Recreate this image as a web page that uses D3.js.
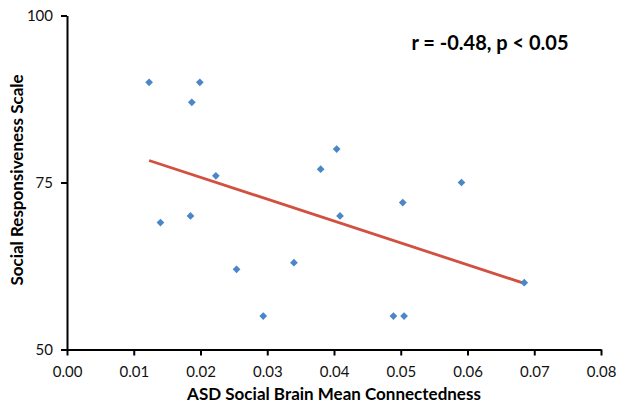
<!DOCTYPE html>
<html>
<head>
<meta charset="utf-8">
<script src="https://cdn.jsdelivr.net/npm/d3@7"></script>
<style>
  html, body { margin: 0; padding: 0; background: #fff; }
  svg { display: block; }
</style>
</head>
<body>
<svg id="chart"></svg>
<script>
// DATA
const connectedness = [0.0123, 0.0199, 0.0187, 0.0223, 0.0140, 0.0185, 0.0254, 0.0294,
  0.0340, 0.0380, 0.0404, 0.0409, 0.0503, 0.0591, 0.0489, 0.0505, 0.0685]
const srsScores = [90, 90, 87, 76, 69, 70, 62, 55, 63, 77, 80, 70, 72, 75, 55, 55, 60]
const trendX = [0.0123, 0.0685]
const trendY = [78.3, 59.9]
const xTicks = [0, 0.01, 0.02, 0.03, 0.04, 0.05, 0.06, 0.07, 0.08]
const yTicks = [50, 75, 100]

// SPACING
const WIDTH = 617
const HEIGHT = 403
const PLOT_LEFT = 67
const PLOT_RIGHT = 601
const PLOT_TOP = 15.5
const PLOT_BOTTOM = 349.5

// STYLE
const POINT_COLOR = "#4a86c8"
const TREND_COLOR = "#d2503f"
const AXIS_COLOR = "#000"
const FONT = "Lato, 'Open Sans', sans-serif"

const svg = d3.select("#chart")
  .attr("width", WIDTH)
  .attr("height", HEIGHT)

const x = d3.scaleLinear().domain([0, 0.08]).range([PLOT_LEFT, PLOT_RIGHT])
const y = d3.scaleLinear().domain([50, 100]).range([PLOT_BOTTOM, PLOT_TOP])

// axes
const xAxis = svg.append("g")
  .attr("transform", `translate(0 ${PLOT_BOTTOM})`)
  .call(d3.axisBottom(x).tickValues(xTicks).tickFormat(d3.format(".2f")).tickSize(6).tickSizeOuter(0))

const yAxis = svg.append("g")
  .attr("transform", `translate(${PLOT_LEFT} 0)`)
  .call(d3.axisLeft(y).tickValues(yTicks).tickSize(6).tickSizeOuter(0))

;[xAxis, yAxis].forEach(g => {
  g.select(".domain").attr("stroke", AXIS_COLOR).attr("stroke-width", 2)
  g.selectAll(".tick line").attr("stroke", AXIS_COLOR).attr("stroke-width", 2)
  g.selectAll(".tick text")
    .attr("fill", "#111")
    .style("font-family", FONT)
    .style("font-size", "15px")
})
xAxis.selectAll(".tick text").attr("dy", "1.2em")
yAxis.selectAll(".tick text").attr("x", -14)

// trend line
svg.append("line")
  .attr("x1", x(trendX[0]))
  .attr("y1", y(trendY[0]))
  .attr("x2", x(trendX[1]))
  .attr("y2", y(trendY[1]))
  .attr("stroke", TREND_COLOR)
  .attr("stroke-width", 2.8)

// points
svg.append("g")
  .selectAll("path")
  .data(connectedness)
  .join("path")
  .attr("d", d3.symbol(d3.symbolSquare, 30))
  .attr("transform", (d, i) => `translate(${x(d)} ${y(srsScores[i])}) rotate(45)`)
  .attr("fill", POINT_COLOR)

// annotation
svg.append("text")
  .attr("x", 490)
  .attr("y", 50)
  .attr("text-anchor", "middle")
  .style("font-family", FONT)
  .style("font-weight", "bold")
  .style("font-size", "20px")
  .text("r = -0.48, p < 0.05")

// axis titles
svg.append("text")
  .attr("x", (PLOT_LEFT + PLOT_RIGHT) / 2)
  .attr("y", 400)
  .attr("text-anchor", "middle")
  .style("font-family", FONT)
  .style("font-weight", "bold")
  .style("font-size", "17px")
  .text("ASD Social Brain Mean Connectedness")

svg.append("text")
  .attr("transform", `translate(23 180) rotate(-90)`)
  .attr("text-anchor", "middle")
  .style("font-family", FONT)
  .style("font-weight", "bold")
  .style("font-size", "17px")
  .text("Social Responsiveness Scale")
</script>
</body>
</html>
